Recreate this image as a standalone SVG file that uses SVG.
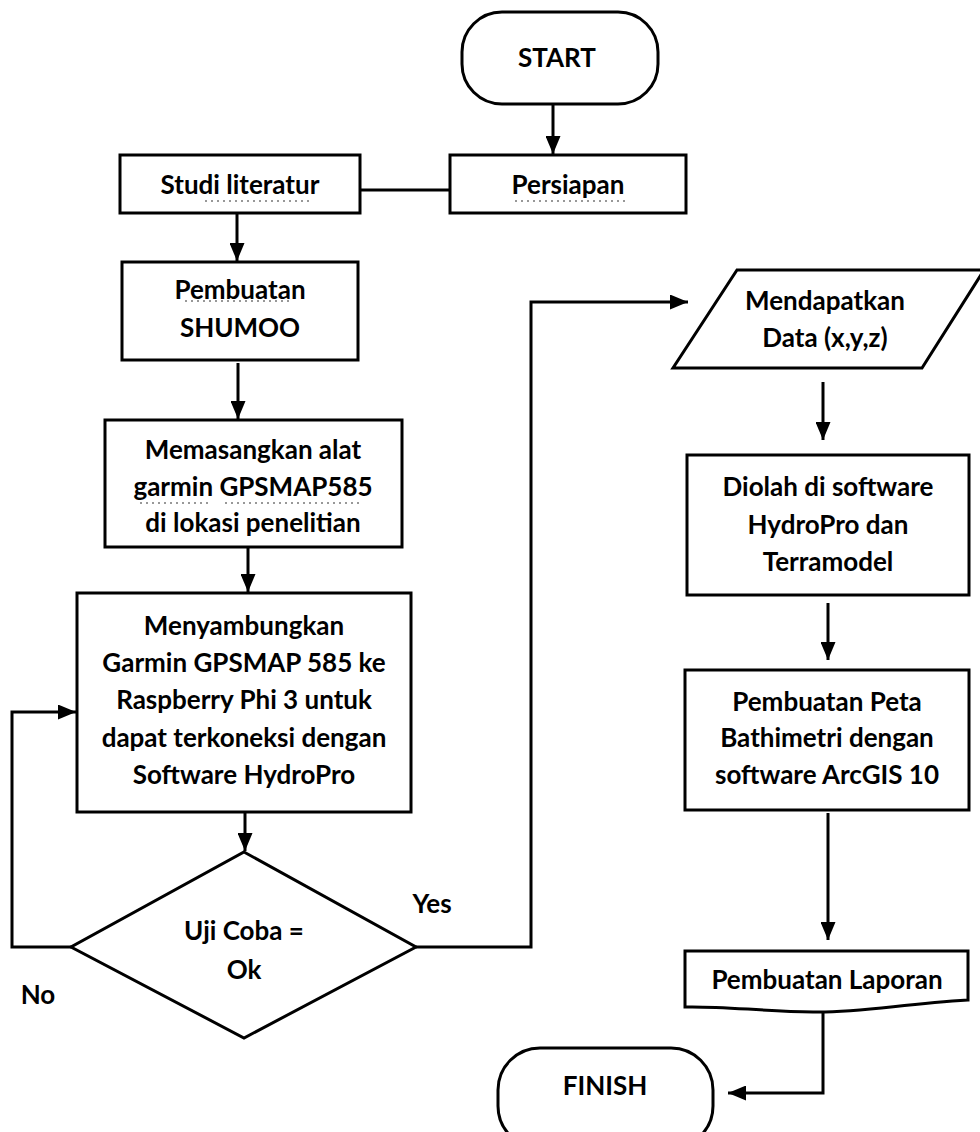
<svg xmlns="http://www.w3.org/2000/svg" width="980" height="1132" viewBox="0 0 980 1132">
<defs>
<marker id="ah" viewBox="0 0 12 10" refX="12" refY="5" markerWidth="6" markerHeight="5" markerUnits="strokeWidth" orient="auto">
<path d="M0,0 L12,5 L0,10 z" fill="#000"/>
</marker>
<style>
.s{fill:#fff;stroke:#000;stroke-width:3}
.c{fill:none;stroke:#000;stroke-width:3}
.a{marker-end:url(#ah)}
text{font-family:"Lato","Open Sans","Liberation Sans",sans-serif;font-weight:bold;font-size:26px;fill:#000;text-anchor:middle}
.u{stroke:#777;stroke-width:1.5;stroke-dasharray:2 4}
</style>
</defs>
<rect width="980" height="1132" fill="#fff"/>
<g id="connectors">
<path class="c a" d="M553,104 V154"/>
<path class="c" d="M360,190 H450"/>
<path class="c a" d="M237,213 V261"/>
<path class="c a" d="M238,363 V419"/>
<path class="c a" d="M248,547 V592"/>
<path class="c a" d="M245,812 V851"/>
<path class="c a" d="M71,947 H12 V712 H76"/>
<path class="c a" d="M416,947 H531 V302 H688"/>
<path class="c a" d="M823,382 V440"/>
<path class="c a" d="M828,603 V660"/>
<path class="c a" d="M828,813 V940"/>
<path class="c a" d="M823,1011 V1093 H728"/>
</g>
<g id="start">
<rect class="s" x="462" y="12" width="196" height="92" rx="40"/>
<text x="557" y="67">START</text>
</g>
<g id="persiapan">
<rect class="s" x="450" y="155" width="236" height="58"/>
<text x="568" y="194">Persiapan</text>
<path class="u" d="M515,201 H628"/>
</g>
<g id="studi">
<rect class="s" x="120" y="155" width="240" height="58"/>
<text x="240" y="194">Studi literatur</text>
<path class="u" d="M205,201 H313"/>
</g>
<g id="shumoo">
<rect class="s" x="122" y="262" width="236" height="98"/>
<text x="240" y="299">Pembuatan</text>
<text x="240" y="337">SHUMOO</text>
<path class="u" d="M185,301 H292"/>
</g>
<g id="memasangkan">
<rect class="s" x="105" y="420" width="297" height="127"/>
<text x="253" y="459">Memasangkan alat</text>
<text x="253" y="496">garmin GPSMAP585</text>
<text x="253" y="532">di lokasi penelitian</text>
<path class="u" d="M140,503 H212"/>
<path class="u" d="M225,503 H360" stroke-dasharray="6 3"/>
</g>
<g id="menyambungkan">
<rect class="s" x="77" y="593" width="334" height="219"/>
<text x="244" y="635">Menyambungkan</text>
<text x="244" y="672">Garmin GPSMAP 585 ke</text>
<text x="244" y="709">Raspberry Phi 3  untuk</text>
<text x="244" y="747">dapat terkoneksi dengan</text>
<text x="244" y="784">Software HydroPro</text>
</g>
<g id="ujicoba">
<path class="s" d="M244,852 L416,947 L244,1038 L71,947 Z"/>
<text x="244" y="940">Uji Coba =</text>
<text x="244" y="979">Ok</text>
</g>
<text x="432" y="913">Yes</text>
<text x="38" y="1004">No</text>
<g id="mendapatkan">
<path class="s" d="M737,270 H984 L922,368 H673 Z"/>
<text x="825" y="310">Mendapatkan</text>
<text x="825" y="347">Data (x,y,z)</text>
</g>
<g id="diolah">
<rect class="s" x="687" y="455" width="282" height="140"/>
<text x="828" y="496">Diolah di software</text>
<text x="828" y="534">HydroPro dan</text>
<text x="828" y="571">Terramodel</text>
</g>
<g id="peta">
<rect class="s" x="685" y="670" width="284" height="140"/>
<text x="827" y="711">Pembuatan Peta</text>
<text x="827" y="747">Bathimetri dengan</text>
<text x="827" y="784">software ArcGIS 10</text>
</g>
<g id="laporan">
<path class="s" d="M685,951 H968 V1000 C900,1004 860,1013 813,1012 C760,1011 720,1006 685,1007 Z"/>
<text x="827" y="989">Pembuatan Laporan</text>
</g>
<g id="finish">
<rect class="s" x="498" y="1048" width="215" height="100" rx="42"/>
<text x="605" y="1095">FINISH</text>
</g>
</svg>
